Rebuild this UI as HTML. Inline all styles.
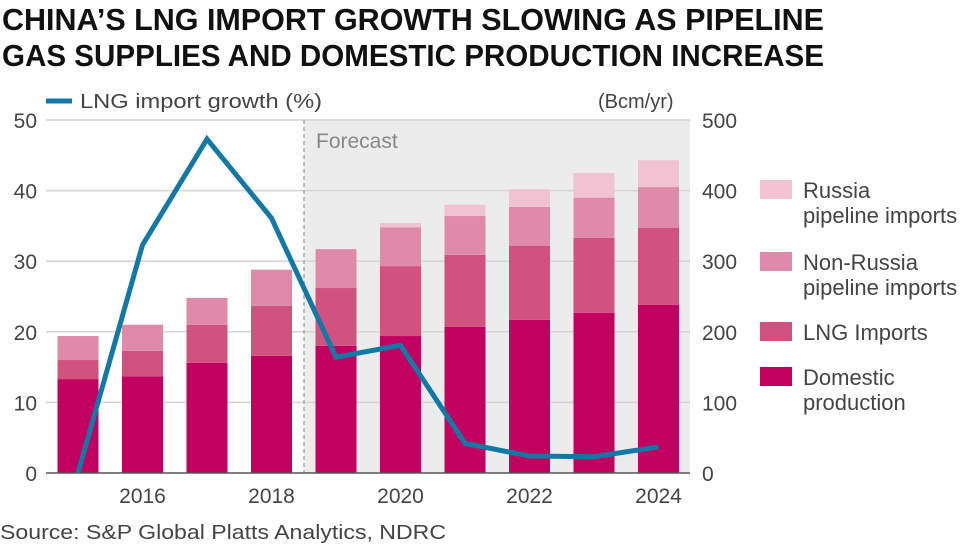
<!DOCTYPE html>
<html><head><meta charset="utf-8"><style>
body{margin:0;background:#fff;}
svg{display:block;font-family:"Liberation Sans",sans-serif;}
</style></head><body>
<svg id="c" width="980" height="546">
<text x="2" y="30" font-size="31" font-weight="bold" fill="#111" textLength="822" lengthAdjust="spacingAndGlyphs">CHINA’S LNG IMPORT GROWTH SLOWING AS PIPELINE</text>
<text x="2" y="66" font-size="31" font-weight="bold" fill="#111" textLength="822" lengthAdjust="spacingAndGlyphs">GAS SUPPLIES AND DOMESTIC PRODUCTION INCREASE</text>
<line x1="46" y1="101" x2="72" y2="101" stroke="#1279a6" stroke-width="5"/>
<text x="80" y="108" font-size="20" fill="#444" textLength="242" lengthAdjust="spacingAndGlyphs">LNG import growth (%)</text>
<text x="598" y="108" font-size="20" fill="#444">(Bcm/yr)</text>
<text x="0" y="539" font-size="20" fill="#444" textLength="446" lengthAdjust="spacingAndGlyphs">Source: S&amp;P Global Platts Analytics, NDRC</text>
<g id="plot"></g>
</svg>
<script>
const years=[2015,2016,2017,2018,2019,2020,2021,2022,2023,2024];
const domestic=[133,137,156,166,180,194,207,217,227,238];
const lng=[27,36,54,71,82,99,102,105,106,109];
const nonRussia=[34,37,38,51,55,55,55,55,57,58];
const russia=[0,0,0,0,0,6,16,25,35,38];
const growth=[0,32.3,47.3,36.1,16.4,18.1,4.2,2.4,2.3,3.7];
const leftTicks=[0,10,20,30,40,50];
const rightTicks=[0,100,200,300,400,500];
const xLabels=[2016,2018,2020,2022,2024];
const NS='http://www.w3.org/2000/svg';
const g=document.getElementById('plot');
const y0=473,yTop=120;
const yL=v=>y0-(v/50)*(y0-yTop);
const yR=v=>y0-(v/500)*(y0-yTop);
const x=yr=>78+(yr-2015)*64.5;
function mk(t,a){const e=document.createElementNS(NS,t);for(const k in a)e.setAttribute(k,a[k]);g.appendChild(e);return e;}
let e=mk('rect',{x:304,y:yTop,width:386,height:y0-yTop,fill:'#ececec'});


leftTicks.forEach((t,i)=>{
 if(t>0){e=mk('line',{x1:46,x2:690,y1:yL(t),y2:yL(t),stroke:'#d4d4d4','stroke-width':1.5});
 
 }
 e=mk('text',{x:37,y:yL(t)+8,'font-size':21,fill:'#444','text-anchor':'end'});e.textContent=t;
 
 
});
rightTicks.forEach(t=>{
 e=mk('text',{x:702,y:yR(t)+8,'font-size':21,fill:'#444'});e.textContent=t;
 
 
});
e=mk('line',{x1:304,x2:304,y1:yTop,y2:y0,stroke:'#aaa','stroke-width':1.5,'stroke-dasharray':'4,3'});


e=mk('text',{x:316,y:148,'font-size':21,fill:'#888'});e.textContent='Forecast';


const series=[[domestic,'#c2005f','bar-domestic'],[lng,'#d1517f','bar-lng'],[nonRussia,'#e08aa9','bar-non-russia'],[russia,'#f1c2d2','bar-russia']];
years.forEach((yr,i)=>{
 let base=0;
 series.forEach(([arr,col,nm])=>{
  const v=arr[i];if(v<=0)return;
  e=mk('rect',{x:x(yr)-20.5,width:41,y:yR(base+v),height:yR(base)-yR(base+v),fill:col});
  
  
  base+=v;
 });
});
e=mk('line',{x1:46,x2:690,y1:y0,y2:y0,stroke:'#555','stroke-width':1.5});


xLabels.forEach(t=>{
 e=mk('text',{x:x(t),y:503,'font-size':21,fill:'#444','text-anchor':'middle'});e.textContent=t;
 
 
});
e=mk('polyline',{points:years.map((yr,i)=>x(yr)+','+yL(growth[i])).join(' '),fill:'none',stroke:'#1279a6','stroke-width':5,'stroke-linejoin':'miter'});


const leg=[['#f1c2d2',['Russia','pipeline imports'],180],['#e08aa9',['Non-Russia','pipeline imports'],252],['#d1517f',['LNG Imports'],322],['#c2005f',['Domestic','production'],367]];
leg.forEach(([c,lines,yy])=>{
 e=mk('rect',{x:760,y:yy,width:32,height:19,fill:c});
 
 
 lines.forEach((l,j)=>{
  e=mk('text',{x:803,y:yy+18+j*25,'font-size':22,fill:'#444'});e.textContent=l;
  
  
 });
});
</script>
</body></html>
